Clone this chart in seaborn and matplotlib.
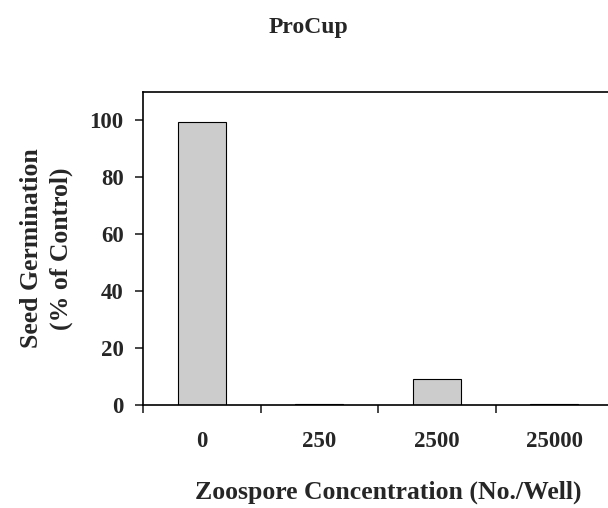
import pandas as pd
import numpy as np
import matplotlib.pyplot as plt
import seaborn as sns

# Data
concentrations = ['0', '250', '2500', '25000']
germination = [99.5, 0.3, 9.1, 0.3]

df = pd.DataFrame({'conc': concentrations, 'germ': germination})

sns.set_style('white')
plt.rcParams['font.family'] = ['Liberation Serif', 'DejaVu Serif']
plt.rcParams['font.weight'] = 'bold'

fig = plt.figure(figsize=(6.08, 5.08), dpi=100)
ax = fig.add_axes([143 / 608, 103 / 508, 470 / 608, 313 / 508])

sns.barplot(data=df, x='conc', y='germ', color='#cccccc', width=0.41,
            edgecolor='black', linewidth=0.8, saturation=1, ax=ax)

ax.set_xlim(-0.5, 3.5)
ax.set_ylim(0, 110)
ax.set_yticks([0, 20, 40, 60, 80, 100])

# labels at centres, tick marks between categories
ax.set_xticks(range(len(concentrations)))
ax.set_xticklabels(concentrations)
ax.set_xticks(np.arange(-0.5, 4, 1), minor=True)
ax.tick_params(axis='x', which='major', length=0, pad=19, labelsize=16.5)
ax.tick_params(axis='x', which='minor', length=6, width=1.2, direction='out', bottom=True)
ax.tick_params(axis='y', length=6, width=1.2, direction='out', left=True, pad=8, labelsize=16.5)

for s in ax.spines.values():
    s.set_color('black')
    s.set_linewidth(1.2)

ax.set_xlabel('Zoospore Concentration (No./Well)', fontsize=18.5, fontweight='bold')
ax.set_ylabel('Seed Germination\n(% of Control)', fontsize=18.5, fontweight='bold',
              labelpad=12, linespacing=1.35)
# label sits low and a little right of the visible axes centre
ax.xaxis.set_label_coords((388 - 143) / 470, -(492 - 405) / 313)
ax.xaxis.label.set_va('center')

fig.text(308 / 608, 1 - 28 / 508, 'ProCup', ha='center', va='center', fontsize=17, fontweight='bold')

plt.savefig('out.png', dpi=100)
